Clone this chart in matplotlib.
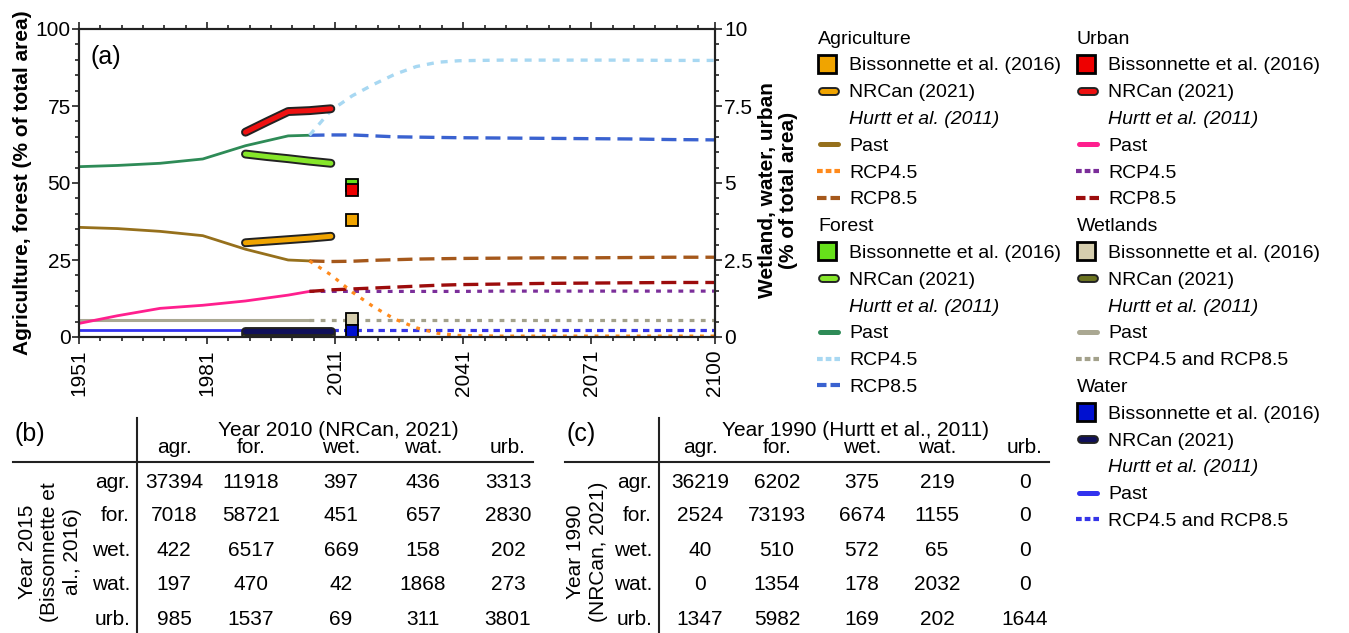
import matplotlib
matplotlib.use('Agg')
import matplotlib.pyplot as plt
import matplotlib.patheffects as pe
from matplotlib.ticker import MultipleLocator

plt.rcParams['font.family'] = ['Liberation Sans', 'DejaVu Sans']

# ---------------- data (all in % of total area) ----------------
past_years = [1951, 1960, 1970, 1980, 1990, 2000, 2005]
agr_past = [35.6, 35.2, 34.3, 32.9, 28.5, 25.0, 24.7]
for_past = [55.3, 55.7, 56.4, 57.8, 62.1, 65.3, 65.5]
urb_past = [4.4, 6.9, 9.3, 10.3, 11.7, 13.6, 14.8]
wet_past = [5.4, 5.4, 5.4, 5.4, 5.4, 5.4, 5.4]
wat_past = [2.3, 2.3, 2.3, 2.3, 2.3, 2.3, 2.3]

rcp_years = [2005, 2010, 2015, 2020, 2025, 2030, 2035, 2040, 2050, 2060, 2070, 2080, 2090, 2100]
agr_rcp45 = [24.7, 20.2, 14.6, 9.8, 5.8, 3.0, 1.2, 0.5, 0.3, 0.3, 0.3, 0.3, 0.3, 0.3]
agr_rcp85 = [24.7, 24.5, 24.6, 24.9, 25.1, 25.3, 25.4, 25.5, 25.6, 25.7, 25.7, 25.8, 25.9, 25.9]
for_rcp45 = [65.5, 73.5, 78.3, 82.0, 85.3, 87.8, 89.2, 89.7, 89.9, 89.9, 89.9, 89.9, 89.8, 89.8]
for_rcp85 = [65.5, 65.6, 65.6, 65.3, 65.0, 64.9, 64.8, 64.7, 64.6, 64.5, 64.4, 64.3, 64.1, 64.0]
urb_rcp45 = [14.8, 14.8, 14.8, 14.8, 14.8, 14.8, 14.8, 14.8, 14.9, 14.9, 14.9, 14.9, 14.9, 14.9]
urb_rcp85 = [14.8, 15.3, 15.6, 15.9, 16.2, 16.5, 16.8, 17.0, 17.2, 17.4, 17.5, 17.6, 17.7, 17.7]
wet_rcp = [5.4] * 14
wat_rcp = [2.3] * 14

nrcan_years = [1990, 1995, 2000, 2005, 2010]
agr_nrcan = [30.6, 31.1, 31.6, 32.1, 32.7]
for_nrcan = [59.4, 58.6, 57.9, 57.1, 56.4]
urb_nrcan = [66.5, 69.9, 73.2, 73.5, 74.1]
wet_nrcan = [1.0, 1.0, 1.0, 1.0, 1.0]
wat_nrcan = [2.1, 2.1, 2.1, 2.1, 2.1]

bis_year = 2015
bis_agr = 38.0
bis_for = 49.5
bis_urb = 47.7
bis_wet = 5.7
bis_wat = 2.0

x_major = [1951, 1981, 2011, 2041, 2071, 2100]
x_minor = list(range(1956, 2100, 5))

table_cols = ['agr.', 'for.', 'wet.', 'wat.', 'urb.']
table_b = [[37394, 11918, 397, 436, 3313],
           [7018, 58721, 451, 657, 2830],
           [422, 6517, 669, 158, 202],
           [197, 470, 42, 1868, 273],
           [985, 1537, 69, 311, 3801]]
table_c = [[36219, 6202, 375, 219, 0],
           [2524, 73193, 6674, 1155, 0],
           [40, 510, 572, 65, 0],
           [0, 1354, 178, 2032, 0],
           [1347, 5982, 169, 202, 1644]]

# colours
c_agr = dict(bis='#f0a400', nrcan='#f0a400', past='#96701c', r45='#ff8a1c', r85='#a5581b')
c_for = dict(bis='#66e01a', nrcan='#86e62a', past='#2e8b57', r45='#a8d8f2', r85='#3a62d0')
c_urb = dict(bis='#ee0000', nrcan='#ee1111', past='#ff1f8e', r45='#7b2e9a', r85='#9c0c0c')
c_wet = dict(bis='#d6ceae', nrcan='#6b7320', past='#aaa892', r45='#a3a18b')
c_wat = dict(bis='#0010d0', nrcan='#10105a', past='#3232ee', r45='#3535e8')

W, H = 1349, 633
fig = plt.figure(figsize=(W / 100, H / 100), dpi=100)
ax = fig.add_axes([79 / W, 1 - 337 / H, 636 / W, 308 / H])

outline = [pe.Stroke(linewidth=6.4, foreground='#222222', capstyle='round'), pe.Normal()]

# past lines
ax.plot(past_years, wet_past, color=c_wet['past'], lw=2.2, zorder=2)
ax.plot(past_years, wat_past, color=c_wat['past'], lw=2.0, zorder=2)
ax.plot(past_years, urb_past, color=c_urb['past'], lw=2.0, zorder=2)
ax.plot(past_years, agr_past, color=c_agr['past'], lw=2.0, zorder=2)
ax.plot(past_years, for_past, color=c_for['past'], lw=2.0, zorder=2)

# projections
ax.plot(rcp_years, wet_rcp, color=c_wet['r45'], lw=2.3, dashes=(1.5, 2.0), zorder=2)
ax.plot(rcp_years, wat_rcp, color=c_wat['r45'], lw=2.3, dashes=(2.0, 1.6), zorder=2)
ax.plot(rcp_years, urb_rcp45, color=c_urb['r45'], lw=2.3, dashes=(1.5, 2.0), zorder=2)
ax.plot(rcp_years, urb_rcp85, color=c_urb['r85'], lw=2.4, dashes=(4.5, 2.1), zorder=2)
ax.plot(rcp_years, agr_rcp85, color=c_agr['r85'], lw=2.4, dashes=(4.5, 2.1), zorder=2)
ax.plot(rcp_years, agr_rcp45, color=c_agr['r45'], lw=2.3, dashes=(1.2, 2.1), zorder=2)
ax.plot(rcp_years, for_rcp85, color=c_for['r85'], lw=2.4, dashes=(4.5, 2.1), zorder=2)
ax.plot(rcp_years, for_rcp45, color=c_for['r45'], lw=2.4, dashes=(2.1, 2.1), zorder=2)

# NRCan (2021)
for vals, c in [(wet_nrcan, c_wet), (wat_nrcan, c_wat), (agr_nrcan, c_agr),
                (for_nrcan, c_for), (urb_nrcan, c_urb)]:
    ax.plot(nrcan_years, vals, color=c['nrcan'], lw=3.6, solid_capstyle='round',
            path_effects=outline, zorder=3)

# Bissonnette et al. (2016)
for v, c in [(bis_agr, c_agr), (bis_for, c_for), (bis_urb, c_urb), (bis_wet, c_wet), (bis_wat, c_wat)]:
    ax.plot([bis_year], [v], marker='s', ms=8.6, mfc=c['bis'], mec='black', mew=1.3,
            ls='none', zorder=4)

ax.set_xlim(1951, 2100)
ax.set_ylim(0, 100)
ax.set_xticks(x_major)
ax.set_xticklabels([str(t) for t in x_major], rotation=90)
ax.xaxis.set_minor_locator(plt.FixedLocator(x_minor))
ax.set_yticks([0, 25, 50, 75, 100])
ax.yaxis.set_minor_locator(MultipleLocator(5))
ax.tick_params(which='both', direction='out', width=1.2, top=True, labelsize=15, color='#222222')
ax.tick_params(which='major', length=5)
ax.tick_params(which='minor', length=3)
ax.tick_params(axis='x', pad=4)
ax.tick_params(axis='y', pad=1)
for s in ax.spines.values():
    s.set_linewidth(1.5)
    s.set_color('#222222')

ax2 = ax.twinx()
ax2.set_ylim(0, 10)
ax2.set_yticks([0, 2.5, 5, 7.5, 10])
ax2.set_yticklabels(['0', '2.5', '5', '7.5', '10'])
ax2.yaxis.set_minor_locator(MultipleLocator(0.5))
ax2.tick_params(which='both', direction='out', width=1.2, labelsize=15, pad=1.5, color='#222222')
ax2.tick_params(which='major', length=5)
ax2.tick_params(which='minor', length=3)
for s in ax2.spines.values():
    s.set_linewidth(1.5)
    s.set_color('#222222')

# ---------------- overlay in pixel coordinates: labels, legend, tables ----------------
lax = fig.add_axes([0, 0, 1, 1])
lax.set_xlim(0, W)
lax.set_ylim(H, 0)
lax.axis('off')

lax.text(23, 183, 'Agriculture, forest (% of total area)', rotation=90, ha='center', va='center',
         fontsize=15, fontweight='bold')
lax.text(778, 190, 'Wetland, water, urban\n(% of total area)', rotation=90, ha='center', va='center',
         fontsize=15, fontweight='bold', linespacing=1.1, multialignment='center')
lax.text(90, 64, '(a)', fontsize=18, va='baseline')


def handle(kind, x0, y, color):
    if kind == 'square':
        lax.plot([x0 + 10], [y], marker='s', ms=12.5, mfc=color, mec='black', mew=2, ls='none')
    elif kind == 'bar':
        lax.plot([x0 + 5, x0 + 18], [y, y], color=color, lw=3.6, solid_capstyle='round',
                 path_effects=outline)
    elif kind == 'line':
        lax.plot([x0 + 2.5, x0 + 20.5], [y, y], color=color, lw=3.6, solid_capstyle='round')
    elif kind == 'dot':
        lax.plot([x0, x0 + 23], [y, y], color=color, lw=3, dashes=(1.37, 0.72))
    elif kind == 'dash':
        lax.plot([x0, x0 + 23], [y, y], color=color, lw=3, dashes=(2.28, 0.96))


def group(entries, x0, row0, name, c, joint=False):
    rows = [('head', name, None), ('square', 'Bissonnette et al. (2016)', c['bis']),
            ('bar', 'NRCan (2021)', c['nrcan']), ('italic', 'Hurtt et al. (2011)', None),
            ('line', 'Past', c['past'])]
    if joint:
        rows.append(('dot', 'RCP4.5 and RCP8.5', c['r45']))
    else:
        rows += [('dot', 'RCP4.5', c['r45']), ('dash', 'RCP8.5', c['r85'])]
    for i, (kind, txt, col) in enumerate(rows):
        yc = 36.5 + 26.8 * (row0 + i)
        if kind == 'head':
            lax.text(x0 + 1, yc + 7, txt, fontsize=14, va='baseline')
        elif kind == 'italic':
            lax.text(x0 + 32, yc + 7, txt, fontsize=14, va='baseline', fontstyle='italic')
        else:
            handle(kind, x0, yc + 0.5, col)
            lax.text(x0 + 32, yc + 7, txt, fontsize=14, va='baseline')


group(None, 817, 0, 'Agriculture', c_agr)
group(None, 817, 7, 'Forest', c_for)
group(None, 1076, 0, 'Urban', c_urb)
group(None, 1076, 7, 'Wetlands', c_wet, joint=True)
group(None, 1076, 13, 'Water', c_wat, joint=True)


def table(data, x_panel, label, x_vline, x_right, head, head_x, col_x, side_text, side_x):
    lax.text(x_panel, 441, label, fontsize=18, va='baseline')
    lax.plot([x_panel - 2, x_right], [462, 462], color='#222222', lw=1.5)
    lax.plot([x_vline, x_vline], [418, H], color='#222222', lw=1.5)
    lax.text(head_x, 435.5, head, fontsize=15, ha='center', va='baseline')
    row_y = [487.5, 521, 555.5, 590, 625]
    for j, name in enumerate(table_cols):
        lax.text(col_x[j], 453, name, fontsize=15, ha='center', va='baseline')
    for i, name in enumerate(table_cols):
        lax.text(x_vline - 7, row_y[i], name, fontsize=15, ha='right', va='baseline')
        for j in range(5):
            lax.text(col_x[j], row_y[i], str(data[i][j]), fontsize=15, ha='center', va='baseline')
    lax.text(side_x, 552, side_text, rotation=90, fontsize=15, ha='center', va='center',
             linespacing=1.25, multialignment='center')


table(table_b, 15, '(b)', 137, 533, 'Year 2010 (NRCan, 2021)', 338,
      [174, 251, 341, 423, 508], 'Year 2015\n(Bissonnette et\nal., 2016)', 50)
table(table_c, 567, '(c)', 659, 1049, 'Year 1990 (Hurtt et al., 2011)', 856,
      [700, 777, 862, 937, 1025], 'Year 1990\n(NRCan, 2021)', 587)

fig.savefig('out.png', dpi=100)
